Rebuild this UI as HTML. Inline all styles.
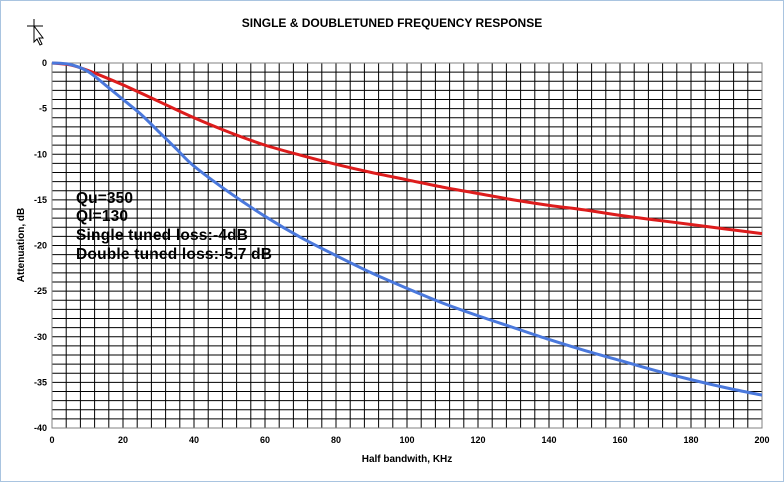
<!DOCTYPE html>
<html><head><meta charset="utf-8"><style>
html,body{margin:0;padding:0;background:#fff;}
svg{display:block;font-family:"Liberation Sans",Arial,sans-serif;}
</style></head><body>
<svg id="chart" width="784" height="482" viewBox="0 0 784 482" xmlns="http://www.w3.org/2000/svg">
<rect x="0.5" y="0.5" width="783" height="481" fill="#fff" stroke="#a9c4e0"/>
<text x="392" y="27" text-anchor="middle" font-size="12" font-weight="bold">SINGLE &amp; DOUBLETUNED FREQUENCY RESPONSE</text>
<g id="grid"></g>
<g id="axes"></g>
<g id="series"></g>
<text x="24" y="245" transform="rotate(-90 24 245)" text-anchor="middle" font-size="10" font-weight="bold">Attenuation, dB</text>
<text x="407" y="462" text-anchor="middle" font-size="10" font-weight="bold">Half bandwith, KHz</text>
<g font-size="15.5" font-weight="bold" fill="#000">
<text x="76" y="203" textLength="57">Qu=350</text>
<text x="76" y="221" textLength="52">Ql=130</text>
<text x="76" y="240" textLength="172">Single tuned loss:-4dB</text>
<text x="76" y="259" textLength="196">Double tuned loss:-5.7 dB</text>
</g>
<g stroke="#000" stroke-width="1" fill="none">
<line x1="27" y1="26" x2="43" y2="26"/><line x1="34" y1="19" x2="34" y2="33"/>
<path d="M34 26 L34 42 L37 39 L40 45 L42 44 L39 38 L43 38 Z" fill="#fff"/>
</g>
</svg>
<script>
const xTicks=[0,20,40,60,80,100,120,140,160,180,200];
const yTicks=[0,-5,-10,-15,-20,-25,-30,-35,-40];
const redX=[0,5,10,20,30,40,50,60,70,80,90,100,110,120,130,140,150,160,170,180,190,200];
const redY=[0,-0.2,-0.8,-2.4,-4.2,-6,-7.6,-9,-10.1,-11.1,-12,-12.8,-13.6,-14.3,-15,-15.6,-16.1,-16.7,-17.2,-17.7,-18.2,-18.7];
const blueX=[0,5,10,15,20,25,30,35,40,50,60,70,80,90,100,110,120,130,140,150,160,170,180,190,200];
const blueY=[0,-0.15,-0.9,-2.4,-4,-5.6,-7.5,-9.4,-11.3,-14.2,-16.8,-19.1,-21.1,-23,-24.7,-26.3,-27.7,-29,-30.3,-31.5,-32.6,-33.7,-34.7,-35.6,-36.4];
const L=52,R=762,T=63,B=428;
function sx(v){return L+(v-0)/(200-0)*(R-L);}
function sy(v){return T+(0-v)/(40)*(B-T);}
const NS="http://www.w3.org/2000/svg";
const grid=document.getElementById('grid'),axes=document.getElementById('axes'),series=document.getElementById('series');
function mk(tag,attrs,parent){const e=document.createElementNS(NS,tag);for(const k in attrs)e.setAttribute(k,attrs[k]);parent.appendChild(e);return e;}
for(let v=4;v<200;v+=4){const l=mk('line',{x1:sx(v),x2:sx(v),y1:T,y2:B,stroke:'#000','stroke-width':1},grid);

}
for(let v=-1;v>-40;v--){const l=mk('line',{x1:L,x2:R,y1:sy(v),y2:sy(v),stroke:'#000','stroke-width':1},grid);

}
const frame=mk('rect',{x:L,y:T,width:R-L,height:B-T,fill:'none',stroke:'#808080','stroke-width':1},axes);


xTicks.forEach(v=>{const t=mk('text',{x:sx(v),y:B+15,'text-anchor':'middle','font-size':9,'font-weight':'bold'},axes);t.textContent=v;

});
yTicks.forEach(v=>{const t=mk('text',{x:L-5,y:sy(v)+3,'text-anchor':'end','font-size':9,'font-weight':'bold'},axes);t.textContent=v;

});
function smooth(xs,ys){const p=xs.map((x,i)=>[sx(x),sy(ys[i])]);let d='M'+p[0][0]+' '+p[0][1];
for(let i=0;i<p.length-1;i++){const p0=p[i-1]||p[i],p1=p[i],p2=p[i+1],p3=p[i+2]||p2;
d+=' C'+(p1[0]+(p2[0]-p0[0])/6)+' '+(p1[1]+(p2[1]-p0[1])/6)+' '+(p2[0]-(p3[0]-p1[0])/6)+' '+(p2[1]-(p3[1]-p1[1])/6)+' '+p2[0]+' '+p2[1];}return d;}
const red=mk('path',{d:smooth(redX,redY),fill:'none',stroke:'#dd1c1c','stroke-width':3},series);


const blue=mk('path',{d:smooth(blueX,blueY),fill:'none',stroke:'#4a78dc','stroke-width':3},series);


</script>
</body></html>
